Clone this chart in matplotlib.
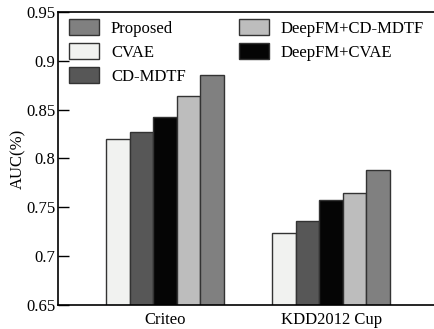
import numpy as np
import matplotlib
matplotlib.use('Agg')
import matplotlib.pyplot as plt

datasets = ['Criteo', 'KDD2012 Cup']
methods = ['CVAE', 'CD-MDTF', 'DeepFM+CVAE', 'DeepFM+CD-MDTF', 'Proposed']
auc = {
    'CVAE': [0.820, 0.724],
    'CD-MDTF': [0.827, 0.736],
    'DeepFM+CVAE': [0.842, 0.757],
    'DeepFM+CD-MDTF': [0.864, 0.765],
    'Proposed': [0.885, 0.788],
}
colors = {
    'CVAE': '#f1f2f0',
    'CD-MDTF': '#575757',
    'DeepFM+CVAE': '#050505',
    'DeepFM+CD-MDTF': '#bdbdbd',
    'Proposed': '#808080',
}
legend_order = ['Proposed', 'CVAE', 'CD-MDTF', 'DeepFM+CD-MDTF', 'DeepFM+CVAE']

plt.rcParams['font.family'] = ['Liberation Serif', 'DejaVu Serif']
plt.rcParams['font.size'] = 12

fig = plt.figure(figsize=(4.34, 3.29), dpi=100)
ax = fig.add_axes([58 / 434, 24 / 329, 376 / 434, 293 / 329])

x = np.arange(len(datasets))
width = 0.142
handles = {}
for i, m in enumerate(methods):
    off = (i - 2) * width
    bars = ax.bar(x + off, auc[m], width, bottom=0, color=colors[m],
                  edgecolor='#333333', linewidth=1.0, label=m)
    handles[m] = bars

ax.set_ylim(0.65, 0.95)
ax.set_xlim(-0.645, 1.62)
ax.set_yticks([0.65, 0.7, 0.75, 0.8, 0.85, 0.9, 0.95])
ax.set_yticklabels(['0.65', '0.7', '0.75', '0.8', '0.85', '0.9', '0.95'])
ax.set_xticks(x)
ax.set_xticklabels(datasets)
ax.tick_params(axis='y', direction='in', length=8, width=1, pad=2)
ax.tick_params(axis='x', length=0, pad=5)
ax.spines['right'].set_visible(False)
for s in ['left', 'bottom', 'top']:
    ax.spines[s].set_linewidth(1.2)
ax.set_ylabel('AUC(%)', labelpad=0)

ax.legend([handles[m] for m in legend_order], legend_order, ncol=2,
          frameon=False, loc='upper left', bbox_to_anchor=(0.008, 1.004),
          handlelength=1.8, handleheight=1.05, handletextpad=0.7,
          columnspacing=3.2, labelspacing=0.4, borderpad=0.3,
          borderaxespad=0.2)

fig.savefig('out.png', dpi=100)
